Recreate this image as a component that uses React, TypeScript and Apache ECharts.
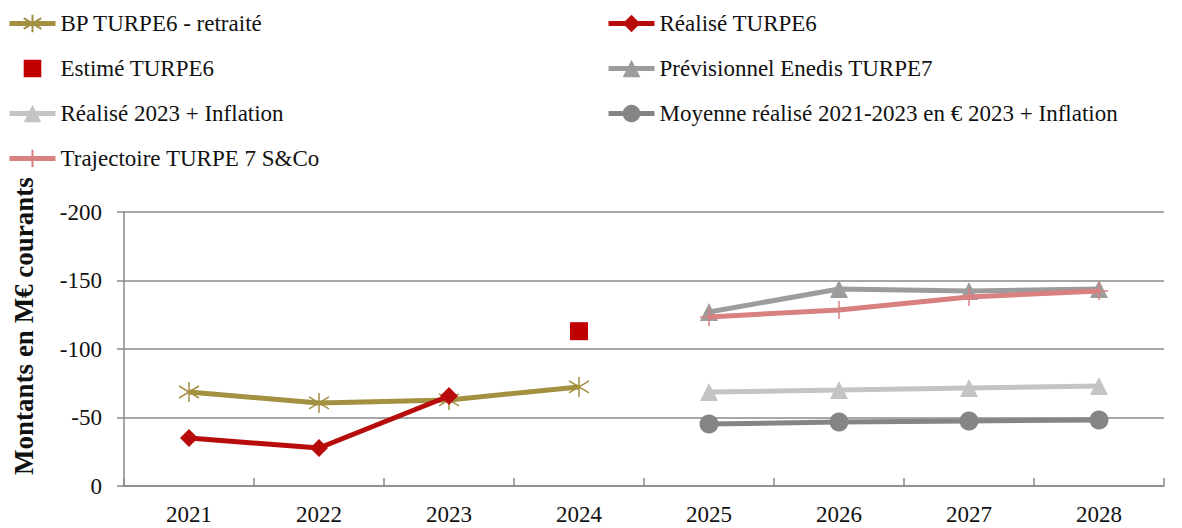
import React, { useEffect, useRef } from "react";
import * as echarts from "echarts";

const years = ["2021", "2022", "2023", "2024", "2025", "2026", "2027", "2028"];
const bpTurpe6 = [-68.6, -60.6, -62.8, -72.3, null, null, null, null];
const realiseTurpe6 = [-35, -27.7, -65.7, null, null, null, null, null];
const estimeTurpe6 = [null, null, null, -113, null, null, null, null];
const previsionnelTurpe7 = [null, null, null, null, -127, -143.8, -142.4, -143.8];
const realise2023Inflation = [null, null, null, null, -68.6, -70, -71.5, -73];
const moyenneRealise = [null, null, null, null, -45.3, -46.7, -47.5, -48.2];
const trajectoireTurpe7 = [null, null, null, null, -123.4, -128.5, -138, -142.4];

const FONT = "'Liberation Serif', 'DejaVu Serif', serif";
const TXT = "#111";

const starPath = "path://M10 0 L10 20 M2 4 L18 16 M2 16 L18 4";
const plusPath = "path://M10 0 L10 20 M0 10 L20 10";

export default function App() {
  const ref = useRef<HTMLDivElement>(null);
  useEffect(() => {
    document.body.style.margin = "0";
    if (!ref.current) return;
    const chart = echarts.init(ref.current, null, { renderer: "svg" });
    const legendCommon = {
      orient: "vertical",
      padding: 0,
      itemWidth: 46,
      itemHeight: 22,
      itemGap: 22,
      textStyle: { fontFamily: FONT, fontSize: 23, color: TXT },
      lineStyle: { width: 5 },
      selectedMode: false,
    };
    chart.setOption({
      animation: false,
      grid: { left: 124, right: 18, top: 212, bottom: 42 },
      legend: [
        {
          ...legendCommon,
          left: 7,
          top: 12,
          data: ["BP TURPE6 - retraité", "Estimé TURPE6", "Réalisé 2023 + Inflation", "Trajectoire TURPE 7 S&Co"],
        },
        {
          ...legendCommon,
          left: 606,
          top: 12,
          data: ["Réalisé TURPE6", "Prévisionnel Enedis TURPE7", "Moyenne réalisé 2021-2023 en € 2023 + Inflation"],
        },
      ],
      graphic: [
        {
          type: "text",
          x: 24,
          y: 326,
          rotation: Math.PI / 2,
          style: {
            text: "Montants en M€ courants",
            font: `bold 27px ${FONT}`,
            fill: TXT,
            align: "center",
            verticalAlign: "middle",
          },
        },
      ],
      xAxis: {
        type: "category",
        data: years,
        boundaryGap: true,
        axisLine: { lineStyle: { color: "#8a8a8a", width: 1.5 } },
        axisTick: { show: true, inside: true, length: 8, lineStyle: { color: "#8a8a8a", width: 1.5 } },
        axisLabel: { fontFamily: FONT, fontSize: 23, color: TXT, margin: 17 },
      },
      yAxis: {
        type: "value",
        inverse: true,
        min: -200,
        max: 0,
        interval: 50,
        axisLine: { show: true, lineStyle: { color: "#8a8a8a", width: 1.5 } },
        axisTick: { show: true, length: 7, lineStyle: { color: "#8a8a8a", width: 1.5 } },
        splitLine: { lineStyle: { color: "#8a8a8a", width: 1.5 } },
        axisLabel: { fontFamily: FONT, fontSize: 23, color: TXT, margin: 22 },
      },
      series: [
        {
          name: "BP TURPE6 - retraité",
          type: "line",
          data: bpTurpe6,
          symbol: starPath,
          symbolSize: 20,
          lineStyle: { color: "#a39040", width: 5 },
          itemStyle: { color: "rgba(0,0,0,0)", borderColor: "#a39040", borderWidth: 1.5 },
          z: 3,
        },
        {
          name: "Réalisé TURPE6",
          type: "line",
          data: realiseTurpe6,
          symbol: "diamond",
          symbolSize: 18,
          lineStyle: { color: "#b80c0c", width: 5 },
          itemStyle: { color: "#b80c0c" },
          z: 4,
        },
        {
          name: "Estimé TURPE6",
          type: "line",
          data: estimeTurpe6,
          symbol: "rect",
          symbolSize: 18,
          lineStyle: { opacity: 0, width: 0 },
          itemStyle: { color: "#c00000" },
        },
        {
          name: "Prévisionnel Enedis TURPE7",
          type: "line",
          data: previsionnelTurpe7,
          symbol: "triangle",
          symbolSize: 18,
          lineStyle: { color: "#9c9c9c", width: 5 },
          itemStyle: { color: "#9c9c9c" },
          z: 2,
        },
        {
          name: "Réalisé 2023 + Inflation",
          type: "line",
          data: realise2023Inflation,
          symbol: "triangle",
          symbolSize: 18,
          lineStyle: { color: "#c4c4c4", width: 5 },
          itemStyle: { color: "#c4c4c4" },
        },
        {
          name: "Moyenne réalisé 2021-2023 en € 2023 + Inflation",
          type: "line",
          data: moyenneRealise,
          symbol: "circle",
          symbolSize: 19,
          lineStyle: { color: "#858585", width: 5 },
          itemStyle: { color: "#858585" },
        },
        {
          name: "Trajectoire TURPE 7 S&Co",
          type: "line",
          data: trajectoireTurpe7,
          symbol: plusPath,
          symbolSize: 18,
          lineStyle: { color: "#d98080", width: 5 },
          itemStyle: { color: "rgba(0,0,0,0)", borderColor: "#d98080", borderWidth: 1.5 },
          z: 3,
        },
      ],
    });
    return () => chart.dispose();
  }, []);
  return <div ref={ref} style={{ width: 1182, height: 528 }} />;
}
